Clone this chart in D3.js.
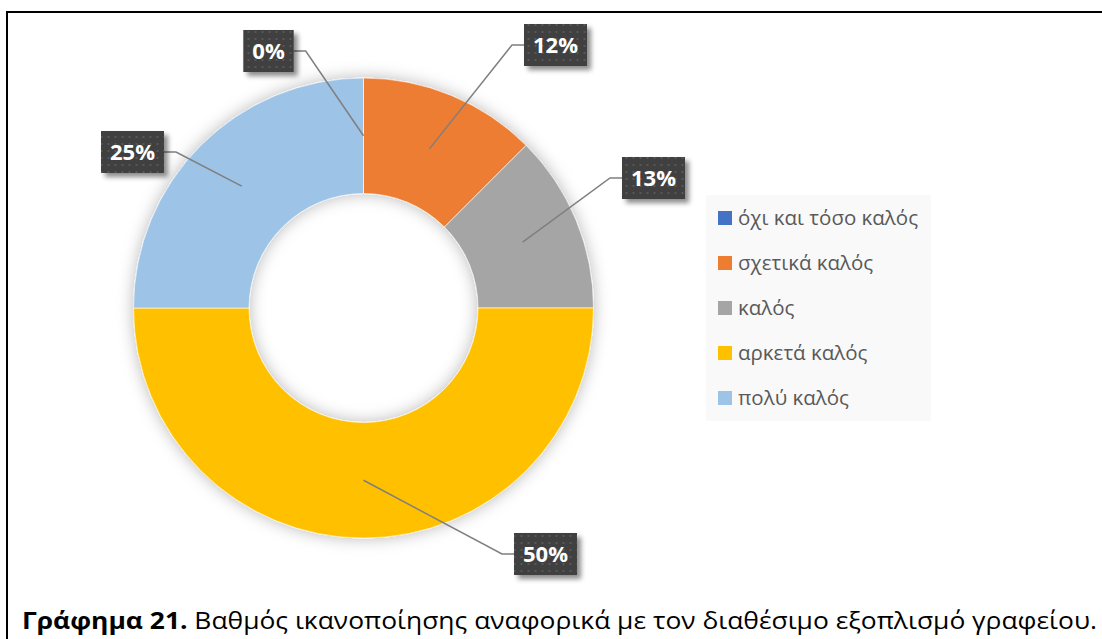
<!DOCTYPE html>
<html>
<head>
<meta charset="utf-8">
<script src="https://cdn.jsdelivr.net/npm/d3@7"></script>
<style>
	body { margin: 0; background: #fff; }
	svg { display: block; }
</style>
</head>
<body>
<div class="donut-example"></div>
<script>
(function() {

	// data
	const categories = ["όχι και τόσο καλός", "σχετικά καλός", "καλός", "αρκετά καλός", "πολύ καλός"];
	const values = [0, 1, 1, 4, 2];
	const valueLabels = ["0%", "12%", "13%", "50%", "25%"];
	const colors = ["#4472C4", "#ED7D31", "#A5A5A5", "#FFC000", "#9DC3E6"];
	const captionBold = "Γράφημα 21.";
	const captionText = " Βαθμός ικανοποίησης αναφορικά με τον διαθέσιμο εξοπλισμό γραφείου.";

	// where Excel put each label box, relative to the donut centre
	const labelOffsets = [[-95, -257], [192, -263], [290, -130], [182, 246], [-231, -156]];

	const width = 1102,
		height = 639,
		cx = 363.5,
		cy = 308,
		outerR = 230,
		innerR = 114.5;

	const svg = d3.select(".donut-example").append("svg")
		.attr("width", width)
		.attr("height", height);

	const defs = svg.append("defs");

	const glow = defs.append("filter")
		.attr("id", "glow")
		.attr("x", "-20%").attr("y", "-20%")
		.attr("width", "140%").attr("height", "140%");
	glow.append("feGaussianBlur").attr("in", "SourceAlpha").attr("stdDeviation", 8).attr("result", "b");
	glow.append("feFlood").attr("flood-color", "#000").attr("flood-opacity", 0.28);
	glow.append("feComposite").attr("in2", "b").attr("operator", "in").attr("result", "s");
	const gm = glow.append("feMerge");
	gm.append("feMergeNode").attr("in", "s");
	gm.append("feMergeNode").attr("in", "SourceGraphic");

	const boxShadow = defs.append("filter")
		.attr("id", "boxShadow")
		.attr("x", "-30%").attr("y", "-30%")
		.attr("width", "170%").attr("height", "180%");
	boxShadow.append("feGaussianBlur").attr("in", "SourceAlpha").attr("stdDeviation", 2.5).attr("result", "b");
	boxShadow.append("feOffset").attr("in", "b").attr("dx", 4).attr("dy", 4).attr("result", "o");
	boxShadow.append("feFlood").attr("flood-color", "#000").attr("flood-opacity", 0.45);
	boxShadow.append("feComposite").attr("in2", "o").attr("operator", "in").attr("result", "s");
	const bm = boxShadow.append("feMerge");
	bm.append("feMergeNode").attr("in", "s");
	bm.append("feMergeNode").attr("in", "SourceGraphic");

	const dots = defs.append("pattern")
		.attr("id", "dots")
		.attr("width", 7).attr("height", 7)
		.attr("patternUnits", "userSpaceOnUse");
	dots.append("rect").attr("width", 7).attr("height", 7).attr("fill", "#3f3f3f");
	dots.append("rect").attr("x", 3).attr("y", 3).attr("width", 2).attr("height", 2).attr("fill", "#585858");

	// frame
	svg.append("path")
		.attr("d", `M7,${height} V12 H${width}`)
		.attr("fill", "none")
		.attr("stroke", "#000")
		.attr("stroke-width", 2);

	const pie = d3.pie()
		.sort(null)
		.value(d => d);

	const arcs = pie(values);

	const arc = d3.arc()
		.outerRadius(outerR)
		.innerRadius(innerR);

	const midArc = d3.arc()
		.outerRadius((outerR + innerR) / 2)
		.innerRadius((outerR + innerR) / 2);

	const g = svg.append("g")
		.attr("transform", `translate(${cx},${cy})`);

	g.append("g")
		.attr("filter", "url(#glow)")
		.selectAll("path")
		.data(arcs)
		.enter().append("path")
		.attr("d", arc)
		.attr("fill", (d, i) => colors[i])
		.attr("stroke", "#fff")
		.attr("stroke-width", 0.6);

	// data labels with leader lines
	const labels = g.selectAll(".lbl")
		.data(arcs)
		.enter().append("g")
		.attr("class", "lbl");

	labels.each(function(d, i) {
		const el = d3.select(this);
		const [lx, ly] = labelOffsets[i];
		const [px, py] = midArc.centroid(d);

		const txt = el.append("text")
			.attr("x", lx)
			.attr("y", ly)
			.attr("dy", "0.36em")
			.attr("text-anchor", "middle")
			.style("font-family", "'Open Sans', sans-serif")
			.style("font-weight", "bold")
			.style("font-size", "22px")
			.attr("fill", "#fff")
			.text(valueLabels[i]);

		const tw = txt.node().getComputedTextLength();
		const bw = tw + 18, bh = 42;

		el.insert("rect", "text")
			.attr("x", lx - bw / 2)
			.attr("y", ly - bh / 2)
			.attr("width", bw)
			.attr("height", bh)
			.attr("fill", "url(#dots)")
			.attr("filter", "url(#boxShadow)");

		const side = lx < px ? 1 : -1;
		const ax = lx + side * bw / 2;
		const ex = ax + side * 12;
		el.insert("path", "rect")
			.attr("d", `M${ax},${ly} H${ex} L${px},${py}`)
			.attr("fill", "none")
			.attr("stroke", "#7f7f7f")
			.attr("stroke-width", 1.5);
	});

	// legend
	const legend = svg.append("g")
		.attr("transform", "translate(706,195)");

	legend.append("rect")
		.attr("width", 225)
		.attr("height", 226)
		.attr("fill", "#f9f9f9");

	const item = legend.selectAll(".legendItem")
		.data(categories)
		.enter().append("g")
		.attr("class", "legendItem")
		.attr("transform", (d, i) => `translate(12,${23 + i * 45})`);

	item.append("rect")
		.attr("y", -7)
		.attr("width", 14)
		.attr("height", 14)
		.attr("fill", (d, i) => colors[i]);

	item.append("text")
		.attr("x", 20)
		.attr("dy", "0.35em")
		.style("font-family", "'Open Sans', sans-serif")
		.style("font-size", "20.5px")
		.attr("fill", "#595959")
		.text(d => d);

	// caption
	const cap = svg.append("text")
		.attr("x", 22)
		.attr("y", 629)
		.attr("textLength", 1075)
		.attr("lengthAdjust", "spacingAndGlyphs")
		.style("font-family", "'Open Sans', sans-serif")
		.style("font-size", "24px")
		.attr("fill", "#000");

	cap.append("tspan").style("font-weight", "bold").text(captionBold);
	cap.append("tspan").text(captionText);

})();
</script>
</body>
</html>
